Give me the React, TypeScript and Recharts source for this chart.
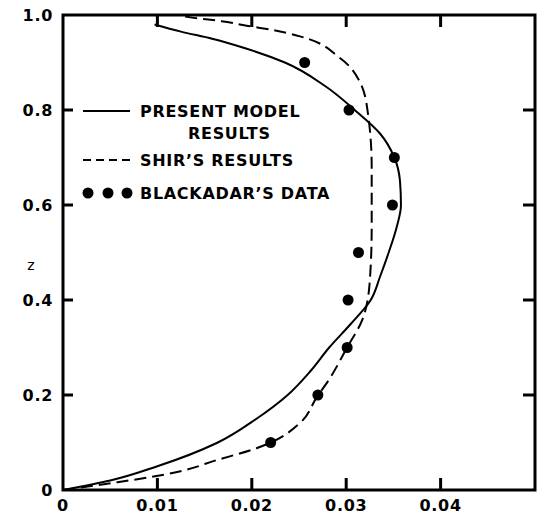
import { LineChart, Line, XAxis, YAxis } from 'recharts';

// axis ticks
const xTicks = [0, 0.01, 0.02, 0.03, 0.04];
const zTicks = [0, 0.2, 0.4, 0.6, 0.8, 1.0];
const topTicks = [0.01, 0.02, 0.03, 0.04];
const sideTicks = [0.2, 0.4, 0.6, 0.8];

// present model results (solid)
const modelZ = [0, 0.02, 0.05, 0.1, 0.15, 0.2, 0.25, 0.3, 0.35, 0.4, 0.45, 0.5, 0.55, 0.6, 0.65, 0.7, 0.75, 0.8, 0.85, 0.9, 0.93, 0.95, 0.965, 0.98];
const modelX = [0, 0.005, 0.01, 0.0164, 0.0205, 0.0238, 0.0262, 0.0282, 0.0305, 0.0326, 0.0336, 0.0345, 0.0353, 0.0358, 0.0357, 0.0351, 0.0336, 0.0309, 0.0278, 0.0235, 0.0193, 0.0158, 0.0125, 0.0097];

// Shir's results (dashed)
const shirZ = [0, 0.015, 0.027, 0.038, 0.063, 0.088, 0.1, 0.141, 0.196, 0.23, 0.3, 0.358, 0.44, 0.55, 0.68, 0.793, 0.857, 0.91, 0.955, 0.968, 0.977, 0.987, 0.995, 0.998];
const shirX = [0, 0.0053, 0.0092, 0.0121, 0.0163, 0.0205, 0.022, 0.0251, 0.0269, 0.0281, 0.0301, 0.0317, 0.0325, 0.0327, 0.0327, 0.0323, 0.0315, 0.0293, 0.0251, 0.0223, 0.0196, 0.0168, 0.0135, 0.0125];

// Blackadar's data (dots)
const blackadarZ = [0.1, 0.2, 0.3, 0.4, 0.5, 0.6, 0.7, 0.8, 0.9];
const blackadarX = [0.022, 0.027, 0.0301, 0.0302, 0.0313, 0.0349, 0.0351, 0.0303, 0.0256];

const zip = (xs: number[], zs: number[]) => xs.map((x, i) => ({ x, z: zs[i] }));

const modelData = zip(modelX, modelZ);
const shirData = zip(shirX, shirZ);
const blackadarData = zip(blackadarX, blackadarZ);

const fmtX = (v: number) => (v === 0 ? '0' : v.toFixed(2));
const fmtZ = (v: number) => (v === 0 ? '0' : v.toFixed(1));

const FONT = 'DejaVu Sans';

// plot box (matches the chart margins / axis sizes below)
const W = 537;
const H = 514;
const PL = 63;
const PT = 15;
const PR = W - 2;
const PB = H - 24;
const X_MAX = 0.05;
const px = (v: number) => PL + (v / X_MAX) * (PR - PL);
const pz = (v: number) => PB - v * (PB - PT);

// frame with inward ticks, legend and the "z" title, laid over the chart
function Overlay() {
  const txt = { fontFamily: FONT, fontWeight: 'bold', fontSize: 16, letterSpacing: 0.7, fill: 'black' };
  const tick = { stroke: 'black', strokeWidth: 3 };
  return (
    <svg width={W} height={H} style={{ position: 'absolute', top: 0, left: 0, pointerEvents: 'none' }}>
      <path
        d={`M${PL},${PT}H${PR}V${PB}H${PL}Z`}
        fill="none"
        stroke="black"
        strokeWidth={3}
      />
      {xTicks.slice(1).map((v) => (
        <path key={`b${v}`} d={`M${px(v)},${PB}V${PB - 12}`} {...tick} />
      ))}
      {topTicks.map((v) => (
        <path key={`t${v}`} d={`M${px(v)},${PT}V${PT + 12}`} {...tick} />
      ))}
      {sideTicks.map((v) => (
        <path key={`l${v}`} d={`M${PL},${pz(v)}H${PL + 10}`} {...tick} />
      ))}
      {sideTicks.map((v) => (
        <path key={`r${v}`} d={`M${PR},${pz(v)}H${PR - 12}`} {...tick} />
      ))}
      <text x={31} y={270} textAnchor="middle" fontFamily={FONT} fontSize={14} fill="black">z</text>
      <g transform="translate(80,98)">
        <line x1={3} x2={50} y1={13} y2={13} stroke="black" strokeWidth={2} />
        <text x={60} y={19} {...txt}>PRESENT MODEL</text>
        <text x={108} y={41} {...txt}>RESULTS</text>
        <line x1={3} x2={50} y1={62} y2={62} stroke="black" strokeWidth={2} strokeDasharray="8 5" />
        <text x={60} y={68} {...txt}>SHIR’S RESULTS</text>
        <circle cx={8} cy={95} r={5.5} fill="black" />
        <circle cx={28} cy={95} r={5.5} fill="black" />
        <circle cx={47} cy={95} r={5.5} fill="black" />
        <text x={60} y={101} {...txt}>BLACKADAR’S DATA</text>
      </g>
    </svg>
  );
}

const tickStyle = { fill: 'black', fontSize: 16, fontFamily: FONT, fontWeight: 'bold', letterSpacing: 0.7 };

export default function App() {
  return (
    <div style={{ position: 'absolute', top: 0, left: 0, width: W, height: H, background: '#fff' }}>
      <LineChart
        width={W}
        height={H}
        layout="vertical"
        margin={{ top: PT, right: W - PR, bottom: 0, left: 0 }}
      >
        <XAxis
          type="number"
          dataKey="x"
          domain={[0, X_MAX]}
          ticks={xTicks}
          tickFormatter={fmtX}
          height={H - PB}
          tickSize={-12}
          tickMargin={22}
          axisLine={{ stroke: 'black', strokeWidth: 2 }}
          tickLine={false}
          tick={tickStyle}
        />
        <YAxis
          type="number"
          dataKey="z"
          reversed
          domain={[0, 1]}
          ticks={zTicks}
          tickFormatter={fmtZ}
          width={PL}
          tickSize={-10}
          tickMargin={20}
          axisLine={{ stroke: 'black', strokeWidth: 2 }}
          tickLine={false}
          tick={tickStyle}
        />
        <Line
          data={modelData}
          dataKey="x"
          type="monotone"
          stroke="black"
          strokeWidth={2}
          dot={false}
          activeDot={false}
          isAnimationActive={false}
        />
        <Line
          data={shirData}
          dataKey="x"
          type="monotone"
          stroke="black"
          strokeWidth={2}
          strokeDasharray="12 6"
          dot={false}
          activeDot={false}
          isAnimationActive={false}
        />
        <Line
          data={blackadarData}
          dataKey="x"
          type="linear"
          stroke="none"
          dot={{ r: 5.5, fill: 'black', stroke: 'black', strokeWidth: 0 }}
          activeDot={false}
          isAnimationActive={false}
        />
      </LineChart>
      <Overlay />
    </div>
  );
}
